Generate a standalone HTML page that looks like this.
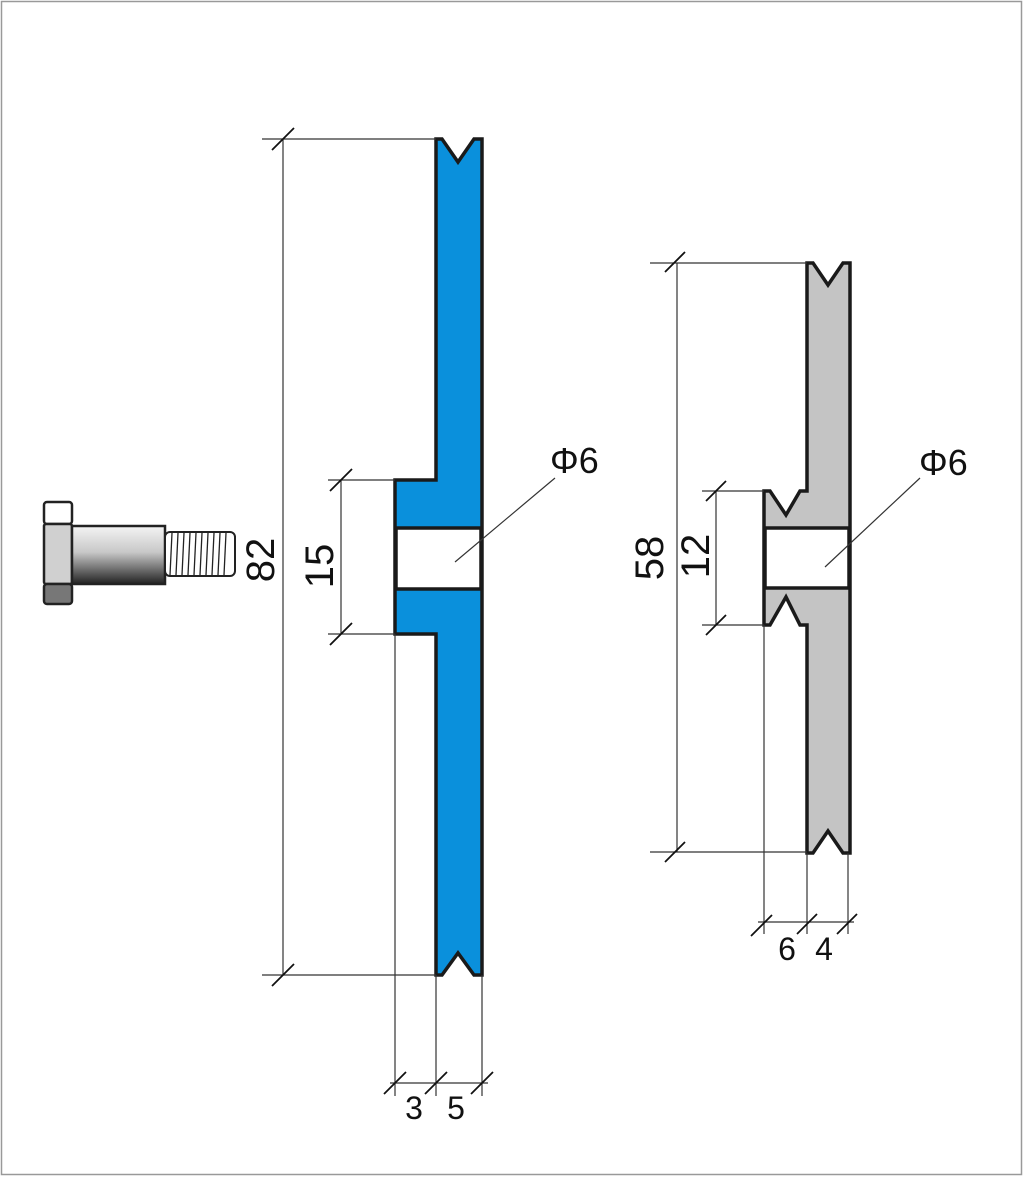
<!DOCTYPE html>
<html><head><style>
html,body{margin:0;padding:0;background:#fff;}
svg{display:block;}
text{font-family:"Liberation Sans",sans-serif;fill:#111;}
</style></head><body>
<svg width="1024" height="1177" viewBox="0 0 1024 1177" xmlns="http://www.w3.org/2000/svg">
<defs>
<linearGradient id="sh" x1="0" y1="0" x2="0" y2="1">
<stop offset="0" stop-color="#f4f4f4"/><stop offset="0.45" stop-color="#c8c8c8"/><stop offset="1" stop-color="#222"/>
</linearGradient>
</defs>
<rect x="1.5" y="1.5" width="1020" height="1173" fill="#fff" stroke="#999" stroke-width="1.5"/>

<!-- bolt -->
<rect x="44" y="502" width="28" height="22" rx="3" fill="#fff" stroke="#222" stroke-width="2.5"/>
<rect x="44" y="524" width="28" height="60" rx="2" fill="#d0d0d0" stroke="#222" stroke-width="2.5"/>
<rect x="44" y="584" width="28" height="20" rx="3" fill="#777" stroke="#222" stroke-width="2.5"/>
<rect x="72" y="526" width="93" height="58" fill="url(#sh)" stroke="#222" stroke-width="2.5"/>
<rect x="165" y="532" width="70" height="44" rx="5" fill="#fff" stroke="#222" stroke-width="2"/>
<g stroke="#222" stroke-width="1.3">
<line x1="172" y1="533" x2="170" y2="575"/><line x1="178" y1="533" x2="176" y2="575"/><line x1="184" y1="533" x2="182" y2="575"/><line x1="190" y1="533" x2="188" y2="575"/><line x1="196" y1="533" x2="194" y2="575"/><line x1="202" y1="533" x2="200" y2="575"/><line x1="208" y1="533" x2="206" y2="575"/><line x1="214" y1="533" x2="212" y2="575"/><line x1="220" y1="533" x2="218" y2="575"/><line x1="226" y1="533" x2="224" y2="575"/>
</g>

<!-- blue wheel -->
<path d="M436,139 L442,139 L458,162 L474,139 L482,139 L482,975 L474,975 L458,953 L442,975 L436,975 L436,634 L395,634 L395,480 L436,480 Z" fill="#0a90dc" stroke="#1a1a1a" stroke-width="3.5" stroke-linejoin="miter"/>
<rect x="396" y="528" width="85" height="61" fill="#fff" stroke="#1a1a1a" stroke-width="3.5"/>

<!-- gray wheel -->
<path d="M807,263 L813,263 L828,285 L843,263 L850,263 L850,853 L843,853 L828,831 L813,853 L807,853 L807,625 L800,625 L786,597 L770,625 L764,625 L764,491 L770,491 L786,515 L800,491 L807,491 Z" fill="#c4c4c4" stroke="#1a1a1a" stroke-width="3.5"/>
<rect x="765" y="528" width="84" height="60" fill="#fff" stroke="#1a1a1a" stroke-width="3.5"/>

<!-- dimension lines -->
<g stroke="#333" stroke-width="1.2" fill="none">
<line x1="262" y1="139" x2="436" y2="139"/><line x1="262" y1="975" x2="436" y2="975"/><line x1="283" y1="139" x2="283" y2="975"/>
<line x1="328" y1="480" x2="395" y2="480"/><line x1="328" y1="634" x2="395" y2="634"/><line x1="341" y1="480" x2="341" y2="634"/>
<line x1="395" y1="634" x2="395" y2="1096"/><line x1="436" y1="975" x2="436" y2="1096"/><line x1="482" y1="975" x2="482" y2="1096"/><line x1="390" y1="1083" x2="488" y2="1083"/>
<line x1="650" y1="263" x2="807" y2="263"/><line x1="650" y1="852" x2="807" y2="852"/><line x1="677" y1="263" x2="677" y2="852"/>
<line x1="702" y1="491" x2="764" y2="491"/><line x1="702" y1="625" x2="764" y2="625"/><line x1="716" y1="491" x2="716" y2="625"/>
<line x1="764" y1="625" x2="764" y2="934"/><line x1="807" y1="853" x2="807" y2="934"/><line x1="848" y1="853" x2="848" y2="934"/><line x1="758" y1="922" x2="854" y2="922"/>
<line x1="455" y1="562" x2="555" y2="478"/><line x1="825" y1="567" x2="920" y2="478"/>
</g>
<g stroke="#111" stroke-width="1.8">
<line x1="272" y1="150" x2="294" y2="128"/><line x1="272" y1="986" x2="294" y2="964"/>
<line x1="330" y1="491" x2="352" y2="469"/><line x1="330" y1="645" x2="352" y2="623"/>
<line x1="384" y1="1094" x2="406" y2="1072"/><line x1="425" y1="1094" x2="447" y2="1072"/><line x1="471" y1="1094" x2="493" y2="1072"/>
<line x1="665" y1="272" x2="685" y2="252"/><line x1="665" y1="862" x2="685" y2="842"/>
<line x1="706" y1="501" x2="726" y2="481"/><line x1="706" y1="635" x2="726" y2="615"/>
<line x1="751" y1="936" x2="772" y2="915"/><line x1="797" y1="934" x2="817" y2="914"/><line x1="837" y1="934" x2="857" y2="914"/>
</g>

<!-- labels -->
<text font-size="40" text-anchor="middle" transform="translate(274,560) rotate(-90)">82</text>
<text font-size="40" text-anchor="middle" transform="translate(333,566) rotate(-90)">15</text>
<text font-size="40" text-anchor="middle" transform="translate(663,558) rotate(-90)">58</text>
<text font-size="40" text-anchor="middle" transform="translate(709,556) rotate(-90)">12</text>
<text font-size="36" x="550" y="473">Φ6</text>
<text font-size="36" x="919" y="475">Φ6</text>
<text font-size="32" x="414" y="1119" text-anchor="middle">3</text>
<text font-size="32" x="456" y="1119" text-anchor="middle">5</text>
<text font-size="32" x="787" y="960" text-anchor="middle">6</text>
<text font-size="32" x="824" y="960" text-anchor="middle">4</text>
</svg>
</body></html>
